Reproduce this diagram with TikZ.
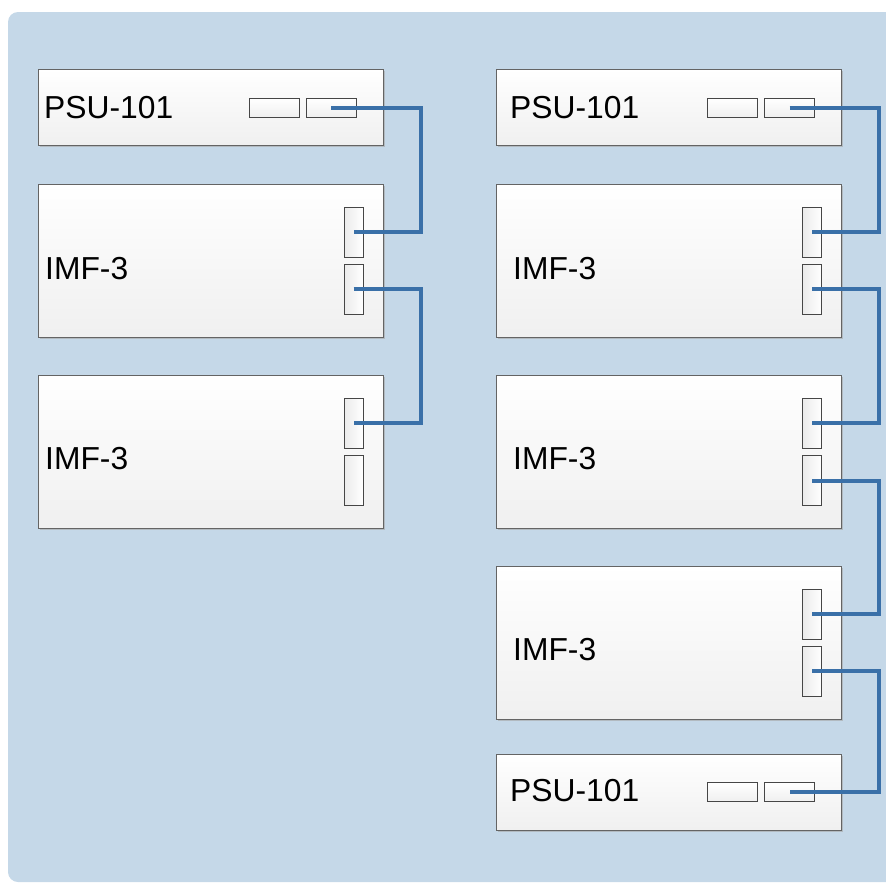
\documentclass[tikz,border=0pt]{standalone}
\usepackage{fontspec}
\setmainfont{Liberation Sans}
\usetikzlibrary{shadows}
\definecolor{bgblue}{RGB}{197,216,232}
\definecolor{cablec}{RGB}{58,112,168}
\definecolor{boxedge}{RGB}{100,100,100}
\definecolor{portedge}{RGB}{70,70,70}
\tikzset{
  unit/.style={draw=boxedge, line width=1pt, top color=white, bottom color=black!6,
    inner sep=0pt, minimum width=345pt,
    drop shadow={shadow xshift=1.5pt, shadow yshift=-1.5pt, fill=black!35, opacity=0.6}},
  psubox/.style={unit, minimum height=76pt},
  imfbox/.style={unit, minimum height=153pt},
  vport/.style={draw=portedge, line width=1pt, left color=black!8, right color=white,
    inner sep=0pt, minimum width=19pt, minimum height=50pt,
    drop shadow={shadow xshift=0.8pt, shadow yshift=-0.8pt, fill=black!30, opacity=0.6}},
  hport/.style={draw=portedge, line width=1pt, top color=white, bottom color=black!6,
    inner sep=0pt, minimum width=50pt, minimum height=19pt,
    drop shadow={shadow xshift=0.8pt, shadow yshift=-0.8pt, fill=black!30, opacity=0.6}},
  lbl/.style={inner sep=0pt, anchor=base west, font=\fontsize{31.8}{36}\selectfont},
  cable/.style={draw=cablec, line width=4pt}
}
\begin{document}
\begin{tikzpicture}[x=1pt,y=-1pt]
\useasboundingbox (0,0) rectangle (886,884);
\fill[bgblue, rounded corners=10pt] (8,12) rectangle (910,882);

% left column
\node[psubox] (psuL) at (210.5,107) {};
\node[hport] (psuLa) at (274,107.5) {};
\node[hport] (psuLb) at (331,107.5) {};
\node[lbl] (psuLt) at (44,118) {PSU-101};

\node[imfbox] (imfLA) at (210.5,260.5) {};
\node[vport] (imfLAa) at (353.5,232) {};
\node[vport] (imfLAb) at (353.5,289) {};
\node[lbl] (imfLAt) at (45,279) {IMF-3};

\node[imfbox] (imfLB) at (210.5,451.5) {};
\node[vport] (imfLBa) at (353.5,423) {};
\node[vport] (imfLBb) at (353.5,480.5) {};
\node[lbl] (imfLBt) at (45,469) {IMF-3};

% right column
\node[psubox] (psuR) at (669,107) {};
\node[hport] (psuRa) at (732,107.5) {};
\node[hport] (psuRb) at (789.5,107.5) {};
\node[lbl] (psuRt) at (510,118) {PSU-101};

\node[imfbox] (imfRA) at (669,260.5) {};
\node[vport] (imfRAa) at (812,232) {};
\node[vport] (imfRAb) at (812,289) {};
\node[lbl] (imfRAt) at (513,279) {IMF-3};

\node[imfbox] (imfRB) at (669,451.5) {};
\node[vport] (imfRBa) at (812,423) {};
\node[vport] (imfRBb) at (812,480.5) {};
\node[lbl] (imfRBt) at (513,469) {IMF-3};

\node[imfbox] (imfRC) at (669,642.5) {};
\node[vport] (imfRCa) at (812,614) {};
\node[vport] (imfRCb) at (812,671) {};
\node[lbl] (imfRCt) at (513,660) {IMF-3};

\node[psubox] (psuS) at (669,792) {};
\node[hport] (psuSa) at (732,791.5) {};
\node[hport] (psuSb) at (789.5,791.5) {};
\node[lbl] (psuSt) at (510,801) {PSU-101};

% cable buses
\coordinate (busL) at (421,0);
\coordinate (busR) at (879,0);

\draw[cable] (psuLb.center) -- (psuLb.center -| busL) -- (imfLAa.center -| busL) -- (imfLAa.center);
\draw[cable] (imfLAb.center) -- (imfLAb.center -| busL) -- (imfLBa.center -| busL) -- (imfLBa.center);

\draw[cable] (psuRb.center) -- (psuRb.center -| busR) -- (imfRAa.center -| busR) -- (imfRAa.center);
\draw[cable] (imfRAb.center) -- (imfRAb.center -| busR) -- (imfRBa.center -| busR) -- (imfRBa.center);
\draw[cable] (imfRBb.center) -- (imfRBb.center -| busR) -- (imfRCa.center -| busR) -- (imfRCa.center);
\draw[cable] (imfRCb.center) -- (imfRCb.center -| busR) -- (psuSb.center -| busR) -- (psuSb.center);
\end{tikzpicture}
\end{document}
